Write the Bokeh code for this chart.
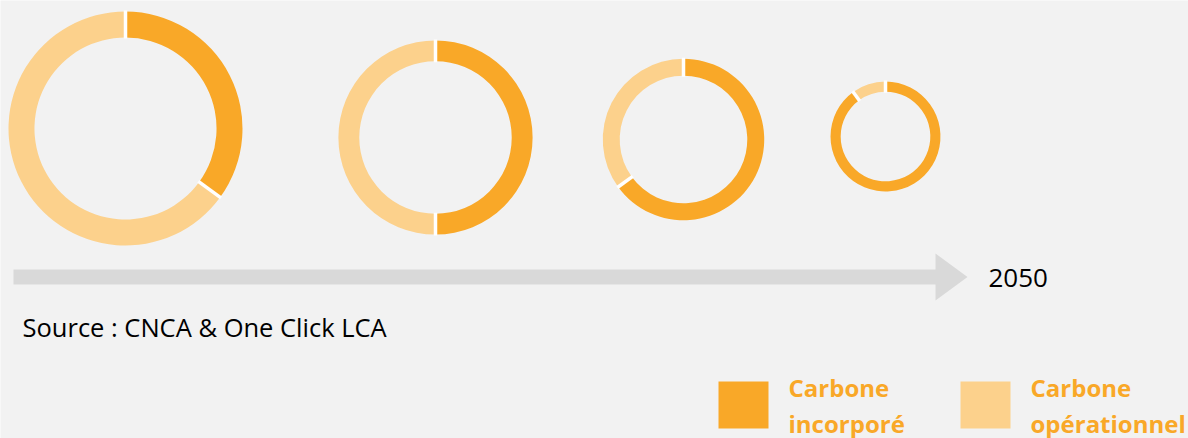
import math
from bokeh.plotting import figure
from bokeh.models import Range1d, ColumnDataSource
from bokeh.core.properties import value
from bokeh.embed import file_html
from bokeh.resources import INLINE

# ---- data ----
series_names = ["Carbone incorporé", "Carbone opérationnel"]
embodied_share = [35, 50, 65, 90]        # % of total (dark)
operational_share = [65, 50, 35, 10]     # % of total (light)
total_relative = [100, 83, 69, 47]       # relative total footprint (donut size)
end_label = "2050"
source_text = "Source : CNCA & One Click LCA"

# ---- style / layout ----
W, H = 1188, 438
BG = "#f2f2f2"
DARK = "#F9A828"
LIGHT = "#FCD18C"
COLORS = [DARK, LIGHT]
centers_x = [125, 435, 683, 885]
centers_y_px = [128, 137, 139, 136]
px_per_unit = 1.17
ring_frac = [0.222, 0.215, 0.21, 0.185]
TXT_SHIFT = 11

p = figure(width=W, height=H, output_backend="svg", toolbar_location=None,
           x_range=Range1d(0, W), y_range=Range1d(0, H), min_border=0)
p.axis.visible = False
p.grid.visible = False
p.outline_line_color = None
p.background_fill_color = BG
p.border_fill_color = BG

def Y(ypx):
    return H - ypx

def YT(ypx):
    return H - (ypx - TXT_SHIFT)

# donuts
wx, wy, wir, wor, wsa, wea, wc = [], [], [], [], [], [], []
sx0, sy0, sx1, sy1 = [], [], [], []
for i in range(len(embodied_share)):
    outer = total_relative[i] * px_per_unit
    inner = outer * (1 - ring_frac[i])
    vals = [embodied_share[i], operational_share[i]]
    tot = sum(vals)
    cum = 0.0
    for j, v in enumerate(vals):
        a0 = math.pi / 2 - 2 * math.pi * (cum + v) / tot
        a1 = math.pi / 2 - 2 * math.pi * cum / tot
        wx.append(centers_x[i]); wy.append(Y(centers_y_px[i]))
        wir.append(inner); wor.append(outer)
        wsa.append(a0); wea.append(a1); wc.append(COLORS[j])
        sx0.append(centers_x[i] + (inner - 1) * math.cos(a1))
        sy0.append(Y(centers_y_px[i]) + (inner - 1) * math.sin(a1))
        sx1.append(centers_x[i] + (outer + 1) * math.cos(a1))
        sy1.append(Y(centers_y_px[i]) + (outer + 1) * math.sin(a1))
        cum += v

src = ColumnDataSource(dict(x=wx, y=wy, ir=wir, orr=wor, sa=wsa, ea=wea, c=wc))
p.annular_wedge(x="x", y="y", inner_radius="ir", outer_radius="orr",
                start_angle="sa", end_angle="ea", fill_color="c",
                line_color=None, source=src)
p.segment(x0=sx0, y0=sy0, x1=sx1, y1=sy1, line_color="white", line_width=3.5)

# timeline arrow
ax0, ax_head, ax_tip = 13, 935, 967
ay, shaft_h, head_h = 276.5, 15, 47
arrow_x = [ax0, ax_head, ax_head, ax_tip, ax_head, ax_head, ax0]
arrow_y = [Y(ay - shaft_h / 2), Y(ay - shaft_h / 2), Y(ay - head_h / 2), Y(ay),
           Y(ay + head_h / 2), Y(ay + shaft_h / 2), Y(ay + shaft_h / 2)]
p.patch(arrow_x, arrow_y, fill_color="#d9d9d9", line_color=None)

p.text(x=[988], y=[YT(288)], text=[end_label], text_font=value("Open Sans"),
       text_font_size="26px", text_color="#000000", text_baseline="alphabetic")
p.text(x=[22], y=[YT(337)], text=[source_text], text_font=value("Open Sans"),
       text_font_size="25.5px", text_color="#000000", text_baseline="alphabetic")

# legend
leg_sq_x = [718, 960]
leg_txt_x = [788, 1030]
for k, name in enumerate(series_names):
    p.quad(left=[leg_sq_x[k]], right=[leg_sq_x[k] + 50], top=[Y(381)], bottom=[Y(428)],
           fill_color=COLORS[k], line_color=None)
    words = name.split(" ", 1)
    p.text(x=[leg_txt_x[k]], y=[YT(398)], text=[words[0]], text_font=value("Open Sans"),
           text_font_size="24px", text_font_style="bold", text_color=DARK,
           text_baseline="alphabetic")
    p.text(x=[leg_txt_x[k]], y=[YT(434)], text=[words[1]], text_font=value("Open Sans"),
           text_font_size="24px", text_font_style="bold", text_color=DARK,
           text_baseline="alphabetic")

open("out.html", "w").write(file_html(p, INLINE))
